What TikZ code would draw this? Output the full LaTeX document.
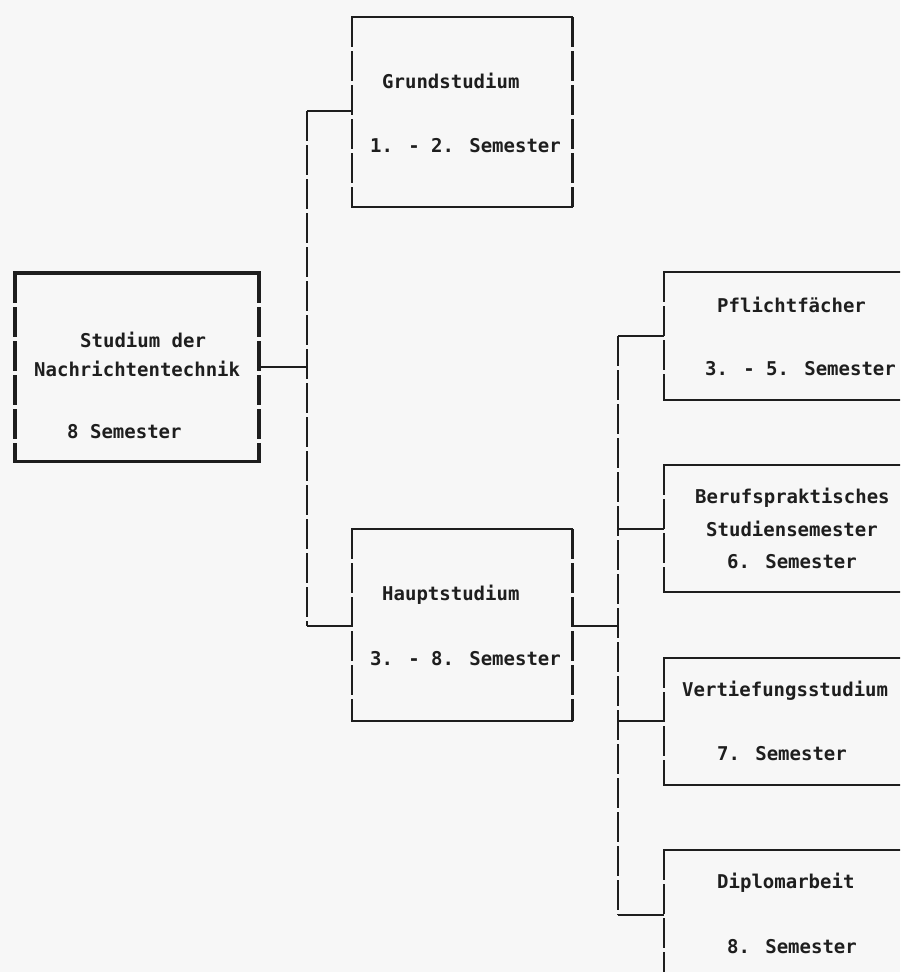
\documentclass[tikz,border=0pt]{standalone}
\usepackage{fontspec}
\newfontfamily\dm{DejaVu Sans Mono}
\definecolor{ink}{RGB}{30,30,30}
\definecolor{paper}{RGB}{247,247,247}
\tikzset{
  box/.style={rectangle, draw=none, inner sep=0pt, anchor=north west},
  hl/.style={draw=ink, line width=2pt, line cap=rect},
  vl/.style={draw=ink, line width=2.4pt, dash pattern=on 30pt off 4pt},
  hlb/.style={draw=ink, line width=3.2pt, line cap=rect},
  vlb/.style={draw=ink, line width=4pt, dash pattern=on 30pt off 4pt},
  conn/.style={draw=ink, line width=2pt},
  txt/.style={inner sep=0pt, anchor=base west, text=ink, font=\dm\bfseries\fontsize{19}{22}\selectfont}
}
\newcommand{\myframe}[1]{%
  \draw[hl] (#1.north west) -- (#1.north east);
  \draw[hl] (#1.south west) -- (#1.south east);
  \draw[vl] (#1.north west) -- (#1.south west);
  \draw[vl] (#1.north east) -- (#1.south east);}
\begin{document}
\begin{tikzpicture}[x=1pt,y=-1pt]
\useasboundingbox (0,0) rectangle (900,972);
\fill[paper] (0,0) rectangle (900,972);
\clip (0,0) rectangle (900,972);

% boxes
\node[box, minimum width=244pt, minimum height=188pt] (main) at (15,273) {};
\node[box, minimum width=220pt, minimum height=190pt] (grund) at (352,17) {};
\node[box, minimum width=220pt, minimum height=192pt] (haupt) at (352,529) {};
\node[box, minimum width=270pt, minimum height=128pt] (pflicht) at (664,272) {};
\node[box, minimum width=270pt, minimum height=127pt] (berufs) at (664,465) {};
\node[box, minimum width=270pt, minimum height=127pt] (vertief) at (664,658) {};
\node[box, minimum width=270pt, minimum height=140pt] (diplom) at (664,850) {};

% main box (bold)
\draw[hlb] (main.north west) -- (main.north east);
\draw[hlb] (main.south west) -- (main.south east);
\draw[vlb] (main.north west) -- (main.south west);
\draw[vlb] (main.north east) -- (main.south east);
\myframe{grund}
\myframe{haupt}
\myframe{pflicht}
\myframe{berufs}
\myframe{vertief}
\myframe{diplom}

% texts
\node[txt] (m1) at (80,347) {Studium der};
\node[txt] (m2) at (34,376) {Nachrichtentechnik};
\node[txt] (m3) at (67,438) {8 Semester};
\node[txt] (g1) at (382,88) {Grundstudium};
\node[txt] (g2) at (370,152) {1. - 2. Semester};
\node[txt] (h1) at (382,600) {Hauptstudium};
\node[txt] (h2) at (370,665) {3. - 8. Semester};
\node[txt] (p1) at (717,312) {Pflichtfächer};
\node[txt] (p2) at (705,375) {3. - 5. Semester};
\node[txt] (b1) at (695,503) {Berufspraktisches};
\node[txt] (b2) at (706,536) {Studiensemester};
\node[txt] (b3) at (727,568) {6. Semester};
\node[txt] (v1) at (682,696) {Vertiefungsstudium};
\node[txt] (v2) at (717,760) {7. Semester};
\node[txt] (d1) at (717,888) {Diplomarbeit};
\node[txt] (d2) at (727,953) {8. Semester};

% bus coordinates
\coordinate (lbT) at (307,111);
\coordinate (lbM) at (307,367);
\coordinate (lbB) at (307,626);
\coordinate (rbT) at (618,336);
\coordinate (rb2) at (618,529);
\coordinate (rbH) at (618,626);
\coordinate (rb3) at (618,721);
\coordinate (rbB) at (618,915);

% left bus
\draw[vl] (lbT) -- (lbB);
\draw[conn] (main.east |- lbM) -- (lbM);
\draw[conn] (lbT) -- (grund.west |- lbT);
\draw[conn] (lbB) -- (haupt.west |- lbB);
% right bus
\draw[vl] (rbT) -- (rbB);
\draw[conn] (haupt.east |- rbH) -- (rbH);
\draw[conn] (rbT) -- (pflicht.west |- rbT);
\draw[conn] (rb2) -- (berufs.west |- rb2);
\draw[conn] (rb3) -- (vertief.west |- rb3);
\draw[conn] (rbB) -- (diplom.west |- rbB);
\end{tikzpicture}
\end{document}
